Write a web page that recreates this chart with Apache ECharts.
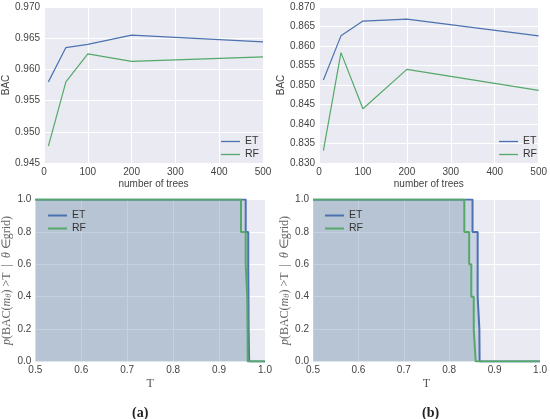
<!DOCTYPE html>
<html><head><meta charset="utf-8">
<script src="https://cdn.jsdelivr.net/npm/echarts@6/dist/echarts.min.js"></script>
<style>html,body{margin:0;padding:0;background:#fff}#c{width:550px;height:419px}</style>
</head><body><div id="c"></div>
<script>
// number of trees
const trees = [10, 50, 100, 200, 500];
// panel (a) BAC
const etA = [0.9580, 0.9635, 0.9640, 0.9655, 0.9644];
const rfA = [0.9477, 0.9580, 0.9625, 0.9613, 0.9620];
// panel (b) BAC
const etB = [0.8513, 0.8626, 0.8664, 0.8669, 0.8626];
const rfB = [0.8332, 0.8583, 0.8439, 0.8540, 0.8486];
// step curves p(BAC > T): thresholds and probabilities
const etStepTA = [0.5, 0.9580, 0.9635, 0.9640, 0.9644, 0.9655, 1.0];
const etStepPA = [1.0, 0.8, 0.6, 0.4, 0.2, 0.0, 0.0];
const rfStepTA = [0.5, 0.9477, 0.9580, 0.9613, 0.9620, 0.9625, 1.0];
const rfStepPA = [1.0, 0.8, 0.6, 0.4, 0.2, 0.0, 0.0];
const etStepTB = [0.5, 0.8513, 0.8626, 0.8664, 0.8669, 1.0];
const etStepPB = [1.0, 0.8, 0.4, 0.2, 0.0, 0.0];
const rfStepTB = [0.5, 0.8332, 0.8439, 0.8486, 0.8540, 0.8583, 1.0];
const rfStepPB = [1.0, 0.8, 0.6, 0.4, 0.2, 0.0, 0.0];
const topYTicksA = [0.945, 0.970, 0.005];
const topYTicksB = [0.830, 0.870, 0.005];

const BLUE = '#4C72B0', GREEN = '#55A868', BG = '#EAEAF2';
const FS = 10;
const zip = (a, b) => a.map((v, i) => [v, b[i]]);
const lbl = {color: '#444', fontSize: FS, fontFamily: 'Liberation Sans'};
const grids = [
  {left: 42, top: 7, width: 221, height: 156},
  {left: 319, top: 7, width: 223, height: 156},
  {left: 35, top: 199.5, width: 230, height: 162},
  {left: 313, top: 199.5, width: 229, height: 162}
].map(g => Object.assign(g, {show: true, backgroundColor: BG, borderWidth: 0}));

function xTop(i) {
  return {type: 'value', gridIndex: i, min: 0, max: 500, interval: 100,
    name: 'number of trees', nameLocation: 'middle', nameGap: 16,
    nameTextStyle: {color: '#444', fontSize: FS, fontFamily: 'Liberation Sans'},
    axisLine: {show: false}, axisTick: {show: false},
    axisLabel: Object.assign({margin: 4}, lbl),
    splitLine: {show: true, lineStyle: {color: '#fff', width: 1}}};
}
function yTop(i, t) {
  return {type: 'value', gridIndex: i, min: t[0], max: t[1], interval: t[2],
    name: 'BAC', nameLocation: 'middle', nameGap: 33,
    nameTextStyle: {color: '#444', fontSize: FS, fontFamily: 'Liberation Sans'},
    axisLine: {show: false}, axisTick: {show: false},
    axisLabel: Object.assign({margin: 4, formatter: v => v.toFixed(3)}, lbl),
    splitLine: {show: true, lineStyle: {color: '#fff', width: 1}}};
}
function xBot(i) {
  return {type: 'value', gridIndex: i, min: 0.5, max: 1.0, interval: 0.1,
    name: 'T', nameLocation: 'middle', nameGap: 16,
    nameTextStyle: {color: '#555', fontSize: 12, fontFamily: 'Liberation Serif'},
    axisLine: {show: false}, axisTick: {show: false},
    axisLabel: Object.assign({margin: 4, formatter: v => v.toFixed(1)}, lbl),
    splitLine: {show: true, lineStyle: {color: '#fff', width: 1}}};
}
function yBot(i) {
  return {type: 'value', gridIndex: i, min: 0, max: 1.0, interval: 0.2,
    name: '{i|p}(BAC({i|m}{s|θ}) >T  |  {i|θ} ∈grid)', nameLocation: 'middle', nameGap: 20,
    nameTextStyle: {color: '#666', fontSize: 12, fontFamily: 'Liberation Serif',
      rich: {i: {fontStyle: 'italic', fontSize: 12, fontFamily: 'Liberation Serif', color: '#666'},
             s: {fontStyle: 'italic', fontSize: 8.5, fontFamily: 'Liberation Serif', color: '#666', padding: [4, 0, 0, 0]}}},
    axisLine: {show: false}, axisTick: {show: false},
    axisLabel: Object.assign({margin: 4, formatter: v => v.toFixed(1)}, lbl),
    splitLine: {show: true, lineStyle: {color: '#fff', width: 1}}};
}
function lineS(name, data, color, i) {
  return {type: 'line', name, data, xAxisIndex: i, yAxisIndex: i, symbol: 'none', showSymbol: false,
    lineStyle: {color, width: 1.2}, itemStyle: {color}, animation: false, silent: true};
}
function stepS(name, data, color, i, fill) {
  return {type: 'line', name, data, xAxisIndex: i, yAxisIndex: i, symbol: 'none', showSymbol: false, step: 'end',
    lineStyle: {color, width: 2}, itemStyle: {color},
    areaStyle: {color: fill, opacity: 1}, animation: false, silent: true};
}
function legend(left, top, h) {
  return {show: true, left, top, orient: 'vertical', itemGap: 2, itemWidth: 19, itemHeight: h,
    data: [{name: 'ET', icon: 'rect', itemStyle: {color: BLUE}}, {name: 'RF', icon: 'rect', itemStyle: {color: GREEN}}],
    textStyle: {color: '#333', fontSize: FS + 0.5, fontFamily: 'Liberation Sans'},
    selectedMode: false};
}

const chart = echarts.init(document.getElementById('c'), null, {renderer: 'canvas'});
chart.setOption({
  animation: false,
  grid: grids,
  xAxis: [xTop(0), xTop(1), xBot(2), xBot(3)],
  yAxis: [yTop(0, topYTicksA), yTop(1, topYTicksB), yBot(2), yBot(3)],
  legend: [legend(216, 131, 1.3), legend(494, 131, 1.3), legend(43, 205, 2), legend(320, 205, 2)],
  series: [
    lineS('ET', zip(trees, etA), BLUE, 0),
    lineS('RF', zip(trees, rfA), GREEN, 0),
    lineS('ET', zip(trees, etB), BLUE, 1),
    lineS('RF', zip(trees, rfB), GREEN, 1),
    stepS('ET', zip(etStepTA, etStepPA), BLUE, 2, 'rgba(76,114,176,0.2)'),
    stepS('RF', zip(rfStepTA, rfStepPA), GREEN, 2, 'rgba(110,140,145,0.2)'),
    stepS('ET', zip(etStepTB, etStepPB), BLUE, 3, 'rgba(76,114,176,0.2)'),
    stepS('RF', zip(rfStepTB, rfStepPB), GREEN, 3, 'rgba(110,140,145,0.2)')
  ],
  title: [
    {text: '(a)', left: 127, top: 401, textStyle: {fontFamily: 'Liberation Serif', fontWeight: 'bold', fontSize: 14, color: '#222'}},
    {text: '(b)', left: 417, top: 401, textStyle: {fontFamily: 'Liberation Serif', fontWeight: 'bold', fontSize: 14, color: '#222'}}
  ]
});
</script></body></html>
